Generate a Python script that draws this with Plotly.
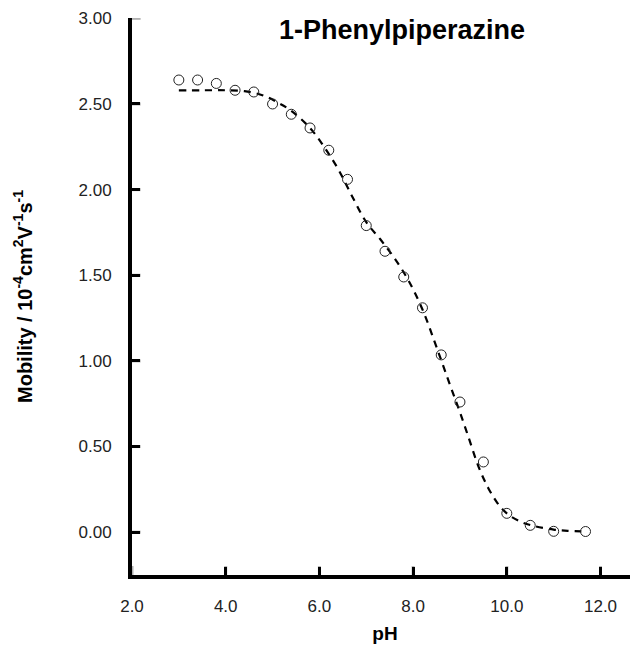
import plotly.graph_objects as go

# measured data (open circles)
ph_points = [3.0, 3.4, 3.8, 4.2, 4.6, 5.0, 5.4, 5.8, 6.2, 6.6, 7.0, 7.4, 7.8,
             8.2, 8.6, 9.0, 9.5, 10.0, 10.5, 11.0, 11.68]
mobility_points = [2.64, 2.64, 2.62, 2.58, 2.57, 2.50, 2.44, 2.36, 2.23, 2.06,
                   1.79, 1.64, 1.49, 1.31, 1.035, 0.76, 0.41, 0.11, 0.04, 0.005, 0.004]

# fitted curve (dashed)
ph_fit = [3.0, 3.5, 4.0, 4.4, 4.8, 5.1, 5.4, 5.8, 6.1, 6.4, 6.7, 7.0, 7.3, 7.6,
          7.9, 8.2, 8.5, 8.8, 9.0, 9.2, 9.4, 9.6, 9.8, 10.0, 10.3, 10.6, 11.0,
          11.3, 11.7]
mobility_fit = [2.58, 2.58, 2.58, 2.575, 2.55, 2.51, 2.46, 2.36, 2.25, 2.12,
                1.96, 1.81, 1.71, 1.60, 1.47, 1.30, 1.08, 0.85, 0.70, 0.54,
                0.38, 0.26, 0.17, 0.11, 0.06, 0.035, 0.015, 0.008, 0.004]

x_ticks = [2.0, 4.0, 6.0, 8.0, 10.0, 12.0]
y_ticks = [0.0, 0.5, 1.0, 1.5, 2.0, 2.5, 3.0]

X_RANGE = [2.0, 12.8]
Y_RANGE = [-0.25, 3.002]

FONT = "Liberation Sans, Arial, Helvetica, sans-serif"

fig = go.Figure()

# fitted curve
fig.add_trace(go.Scatter(
    x=ph_fit, y=mobility_fit,
    mode="lines",
    line=dict(color="black", width=2.2, dash="7px,6px", shape="spline"),
    showlegend=False,
))

# measured points
fig.add_trace(go.Scatter(
    x=ph_points, y=mobility_points,
    mode="markers",
    marker=dict(symbol="circle-open", size=10, color="#222222",
                line=dict(width=1, color="#222222")),
    showlegend=False,
))

# inward tick marks drawn as short shapes (axis ticks were not showing up)
for v in x_ticks:
    fig.add_shape(type="line", xref="x", yref="paper",
                  x0=v, x1=v, y0=0, y1=0.016,
                  line=dict(color="black", width=3), layer="above")
for v in y_ticks:
    fig.add_shape(type="line", xref="paper", yref="y",
                  x0=0, x1=0.017, y0=v, y1=v,
                  line=dict(color="black", width=3), layer="above")

fig.add_annotation(
    text="<b>1-Phenylpiperazine</b>",
    xref="paper", yref="paper", x=0.534, y=0.978,
    xanchor="center", yanchor="middle", showarrow=False,
    font=dict(family=FONT, size=27, color="black"),
)

fig.update_layout(
    template="simple_white",
    width=630, height=640,
    margin=dict(l=124, r=0, t=10, b=73),
    font=dict(family=FONT, color="#222222"),
    showlegend=False,
    xaxis=dict(
        range=X_RANGE,
        tickvals=x_ticks,
        tickformat=".1f",
        ticks="inside", ticklen=8, tickwidth=3, tickcolor="black",
        showline=True, linewidth=4, linecolor="black",
        ticklabelstandoff=13,
        tickfont=dict(family=FONT, size=17, color="#222222"),
        title=dict(text="<b>pH</b>", font=dict(family=FONT, size=19, color="black"),
                   standoff=12),
    ),
    yaxis=dict(
        range=Y_RANGE,
        tickvals=y_ticks,
        tickformat=".2f",
        ticks="inside", ticklen=8, tickwidth=3, tickcolor="black",
        showline=True, linewidth=4, linecolor="black",
        ticklabelstandoff=13,
        tickfont=dict(family=FONT, size=17, color="#222222"),
        title=dict(text="<b>Mobility / 10<sup>-4</sup>cm<sup>2</sup>V<sup>-1</sup>s<sup>-1</sup></b>",
                   font=dict(family=FONT, size=20, color="black"), standoff=42),
    ),
)

fig.write_html("out.html")
